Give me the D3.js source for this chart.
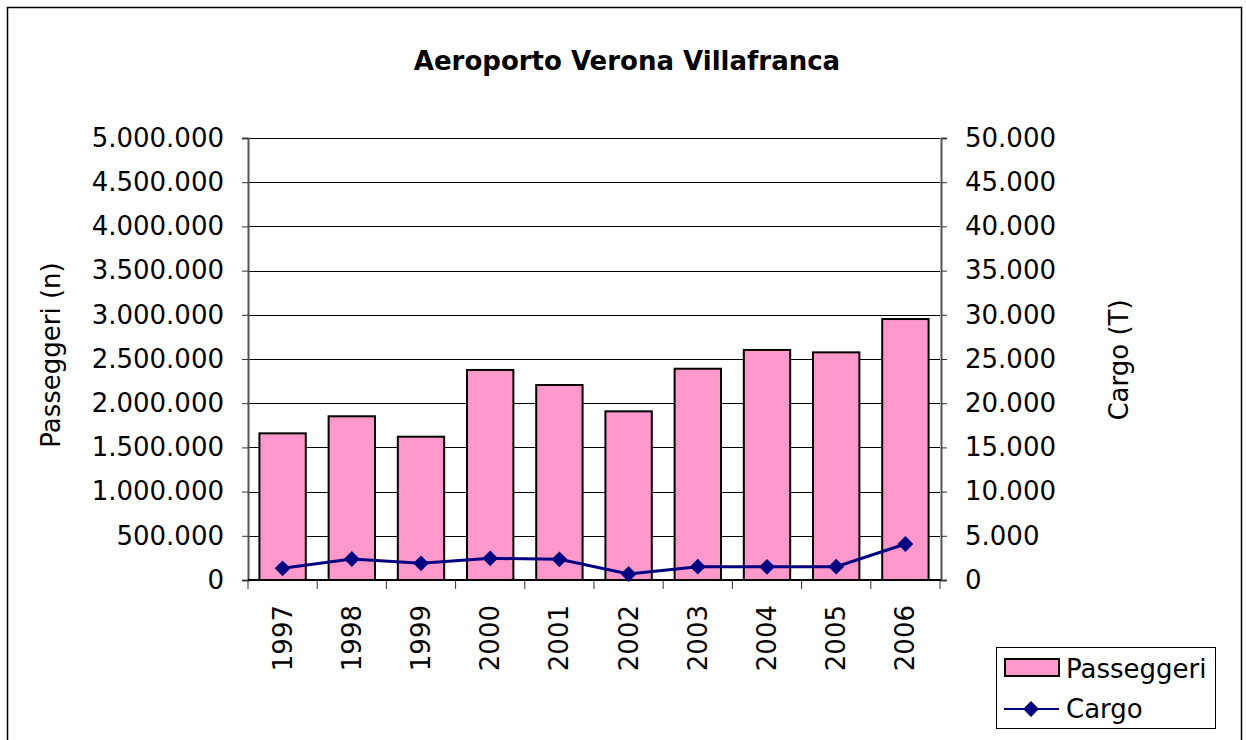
<!DOCTYPE html>
<html>
<head>
<meta charset="utf-8">
<script src="https://cdn.jsdelivr.net/npm/d3@7"></script>
<style>
  html, body { margin: 0; padding: 0; background: #fff; }
  svg { display: block; font-family: 'DejaVu Sans', Verdana, sans-serif; }
</style>
</head>
<body>
<svg id="chart"></svg>
<script>
let width = 1246;
let height = 740;

let years = ['1997', '1998', '1999', '2000', '2001', '2002', '2003', '2004', '2005', '2006'];
let passeggeri = [1659000, 1852000, 1621000, 2376000, 2206000, 1908000, 2390000, 2602000, 2575000, 2952000];
let cargo = [1320, 2375, 1885, 2450, 2337, 680, 1508, 1490, 1508, 4072];

let leftTicks = d3.range(0, 5000001, 500000);
let rightTicks = d3.range(0, 50001, 5000);

let itFormat = d3.formatLocale({ decimal: ',', thousands: '.', grouping: [3], currency: ['', ' €'] }).format(',d');

let margin = { top: 138, right: 306, bottom: 160, left: 248 };

let svg = d3.select('#chart').attr('width', width).attr('height', height);

// outer chart frame (bottom edge falls outside the picture)
svg.append('rect')
  .attr('x', 7.5).attr('y', 7.5)
  .attr('width', 1234).attr('height', 760)
  .attr('fill', 'none').attr('stroke', '#000').attr('stroke-width', 1.5);

let x = d3.scaleBand().domain(years).range([margin.left, width - margin.right]).paddingInner(0.33).paddingOuter(0.165);
let xEdges = d3.scaleLinear().domain([0, years.length]).range([margin.left, width - margin.right]);
let yLeft = d3.scaleLinear().domain([0, 5000000]).range([height - margin.bottom, margin.top]);
let yRight = d3.scaleLinear().domain([0, 50000]).range([height - margin.bottom, margin.top]);

// gridlines
svg.append('g')
  .selectAll('line')
  .data(leftTicks)
  .enter()
  .append('line')
  .attr('x1', margin.left).attr('x2', width - margin.right)
  .attr('y1', (d) => Math.round(yLeft(d)) + 0.5).attr('y2', (d) => Math.round(yLeft(d)) + 0.5)
  .attr('stroke', '#000').attr('stroke-width', 1);

// bars
svg.append('g')
  .selectAll('rect')
  .data(passeggeri)
  .enter()
  .append('rect')
  .attr('x', (d, i) => x(years[i]))
  .attr('y', (d) => yLeft(d))
  .attr('width', x.bandwidth())
  .attr('height', (d) => yLeft(0) - yLeft(d))
  .attr('fill', '#FF99CC')
  .attr('stroke', '#000')
  .attr('stroke-width', 2);

// left axis
let leftAxis = svg.append('g')
  .attr('transform', `translate(${margin.left},0)`)
  .call(d3.axisLeft(yLeft).tickValues(leftTicks).tickFormat(itFormat).tickSize(6).tickPadding(18));

// right axis
let rightAxis = svg.append('g')
  .attr('transform', `translate(${width - margin.right + 1},0)`)
  .call(d3.axisRight(yRight).tickValues(rightTicks).tickFormat(itFormat).tickSize(6).tickPadding(18));

[leftAxis, rightAxis].forEach((g) => {
  g.select('.domain').attr('stroke', '#555').attr('stroke-width', 2);
  g.selectAll('.tick line').attr('stroke', '#333');
  g.selectAll('.tick text').attr('font-size', 26).attr('fill', '#000').attr('font-family', "'DejaVu Sans', Verdana, sans-serif");
});

// x axis line + ticks at category boundaries
let xAxisG = svg.append('g');
xAxisG.append('line')
  .attr('x1', margin.left).attr('x2', width - margin.right + 1)
  .attr('y1', yLeft(0)).attr('y2', yLeft(0))
  .attr('stroke', '#000').attr('stroke-width', 2);
xAxisG.selectAll('.xt')
  .data(d3.range(0, years.length + 1))
  .enter()
  .append('line')
  .attr('class', 'xt')
  .attr('x1', (d) => xEdges(d)).attr('x2', (d) => xEdges(d))
  .attr('y1', yLeft(0)).attr('y2', yLeft(0) + 9)
  .attr('stroke', '#333').attr('stroke-width', 1);
xAxisG.selectAll('text')
  .data(years)
  .enter()
  .append('text')
  .attr('transform', (d) => `translate(${x(d) + x.bandwidth() / 2 + 9},${yLeft(0) + 25}) rotate(-90)`)
  .attr('text-anchor', 'end')
  .attr('font-size', 26)
  .text((d) => d);

// cargo line
let line = d3.line()
  .x((d, i) => x(years[i]) + x.bandwidth() / 2)
  .y((d) => yRight(d));

svg.append('path')
  .datum(cargo)
  .attr('d', line)
  .attr('fill', 'none')
  .attr('stroke', '#000080')
  .attr('stroke-width', 3);

let diamond = d3.symbol().type(d3.symbolDiamond2).size(160);

svg.append('g')
  .selectAll('path')
  .data(cargo)
  .enter()
  .append('path')
  .attr('d', diamond)
  .attr('transform', (d, i) => `translate(${x(years[i]) + x.bandwidth() / 2},${yRight(d)})`)
  .attr('fill', '#000080');

// titles
svg.append('text')
  .attr('x', 627).attr('y', 70)
  .attr('text-anchor', 'middle')
  .attr('font-size', 26)
  .attr('font-weight', 'bold')
  .text('Aeroporto Verona Villafranca');

svg.append('text')
  .attr('transform', 'translate(60,355) rotate(-90)')
  .attr('text-anchor', 'middle')
  .attr('font-size', 26)
  .text('Passeggeri (n)');

svg.append('text')
  .attr('transform', 'translate(1128,360) rotate(-90)')
  .attr('text-anchor', 'middle')
  .attr('font-size', 26)
  .text('Cargo (T)');

// legend
let legend = svg.append('g');
legend.append('rect')
  .attr('x', 996.5).attr('y', 647.5).attr('width', 219).attr('height', 81)
  .attr('fill', '#fff').attr('stroke', '#000').attr('stroke-width', 1);
legend.append('rect')
  .attr('x', 1005).attr('y', 659).attr('width', 54).attr('height', 17)
  .attr('fill', '#FF99CC').attr('stroke', '#000').attr('stroke-width', 2);
legend.append('text')
  .attr('x', 1066).attr('y', 678).attr('font-size', 26).text('Passeggeri');
legend.append('line')
  .attr('x1', 1004).attr('x2', 1059).attr('y1', 709).attr('y2', 709)
  .attr('stroke', '#000080').attr('stroke-width', 2);
legend.append('path')
  .attr('d', diamond)
  .attr('transform', 'translate(1031,709)')
  .attr('fill', '#000080');
legend.append('text')
  .attr('x', 1066).attr('y', 718).attr('font-size', 26).text('Cargo');
</script>
</body>
</html>
